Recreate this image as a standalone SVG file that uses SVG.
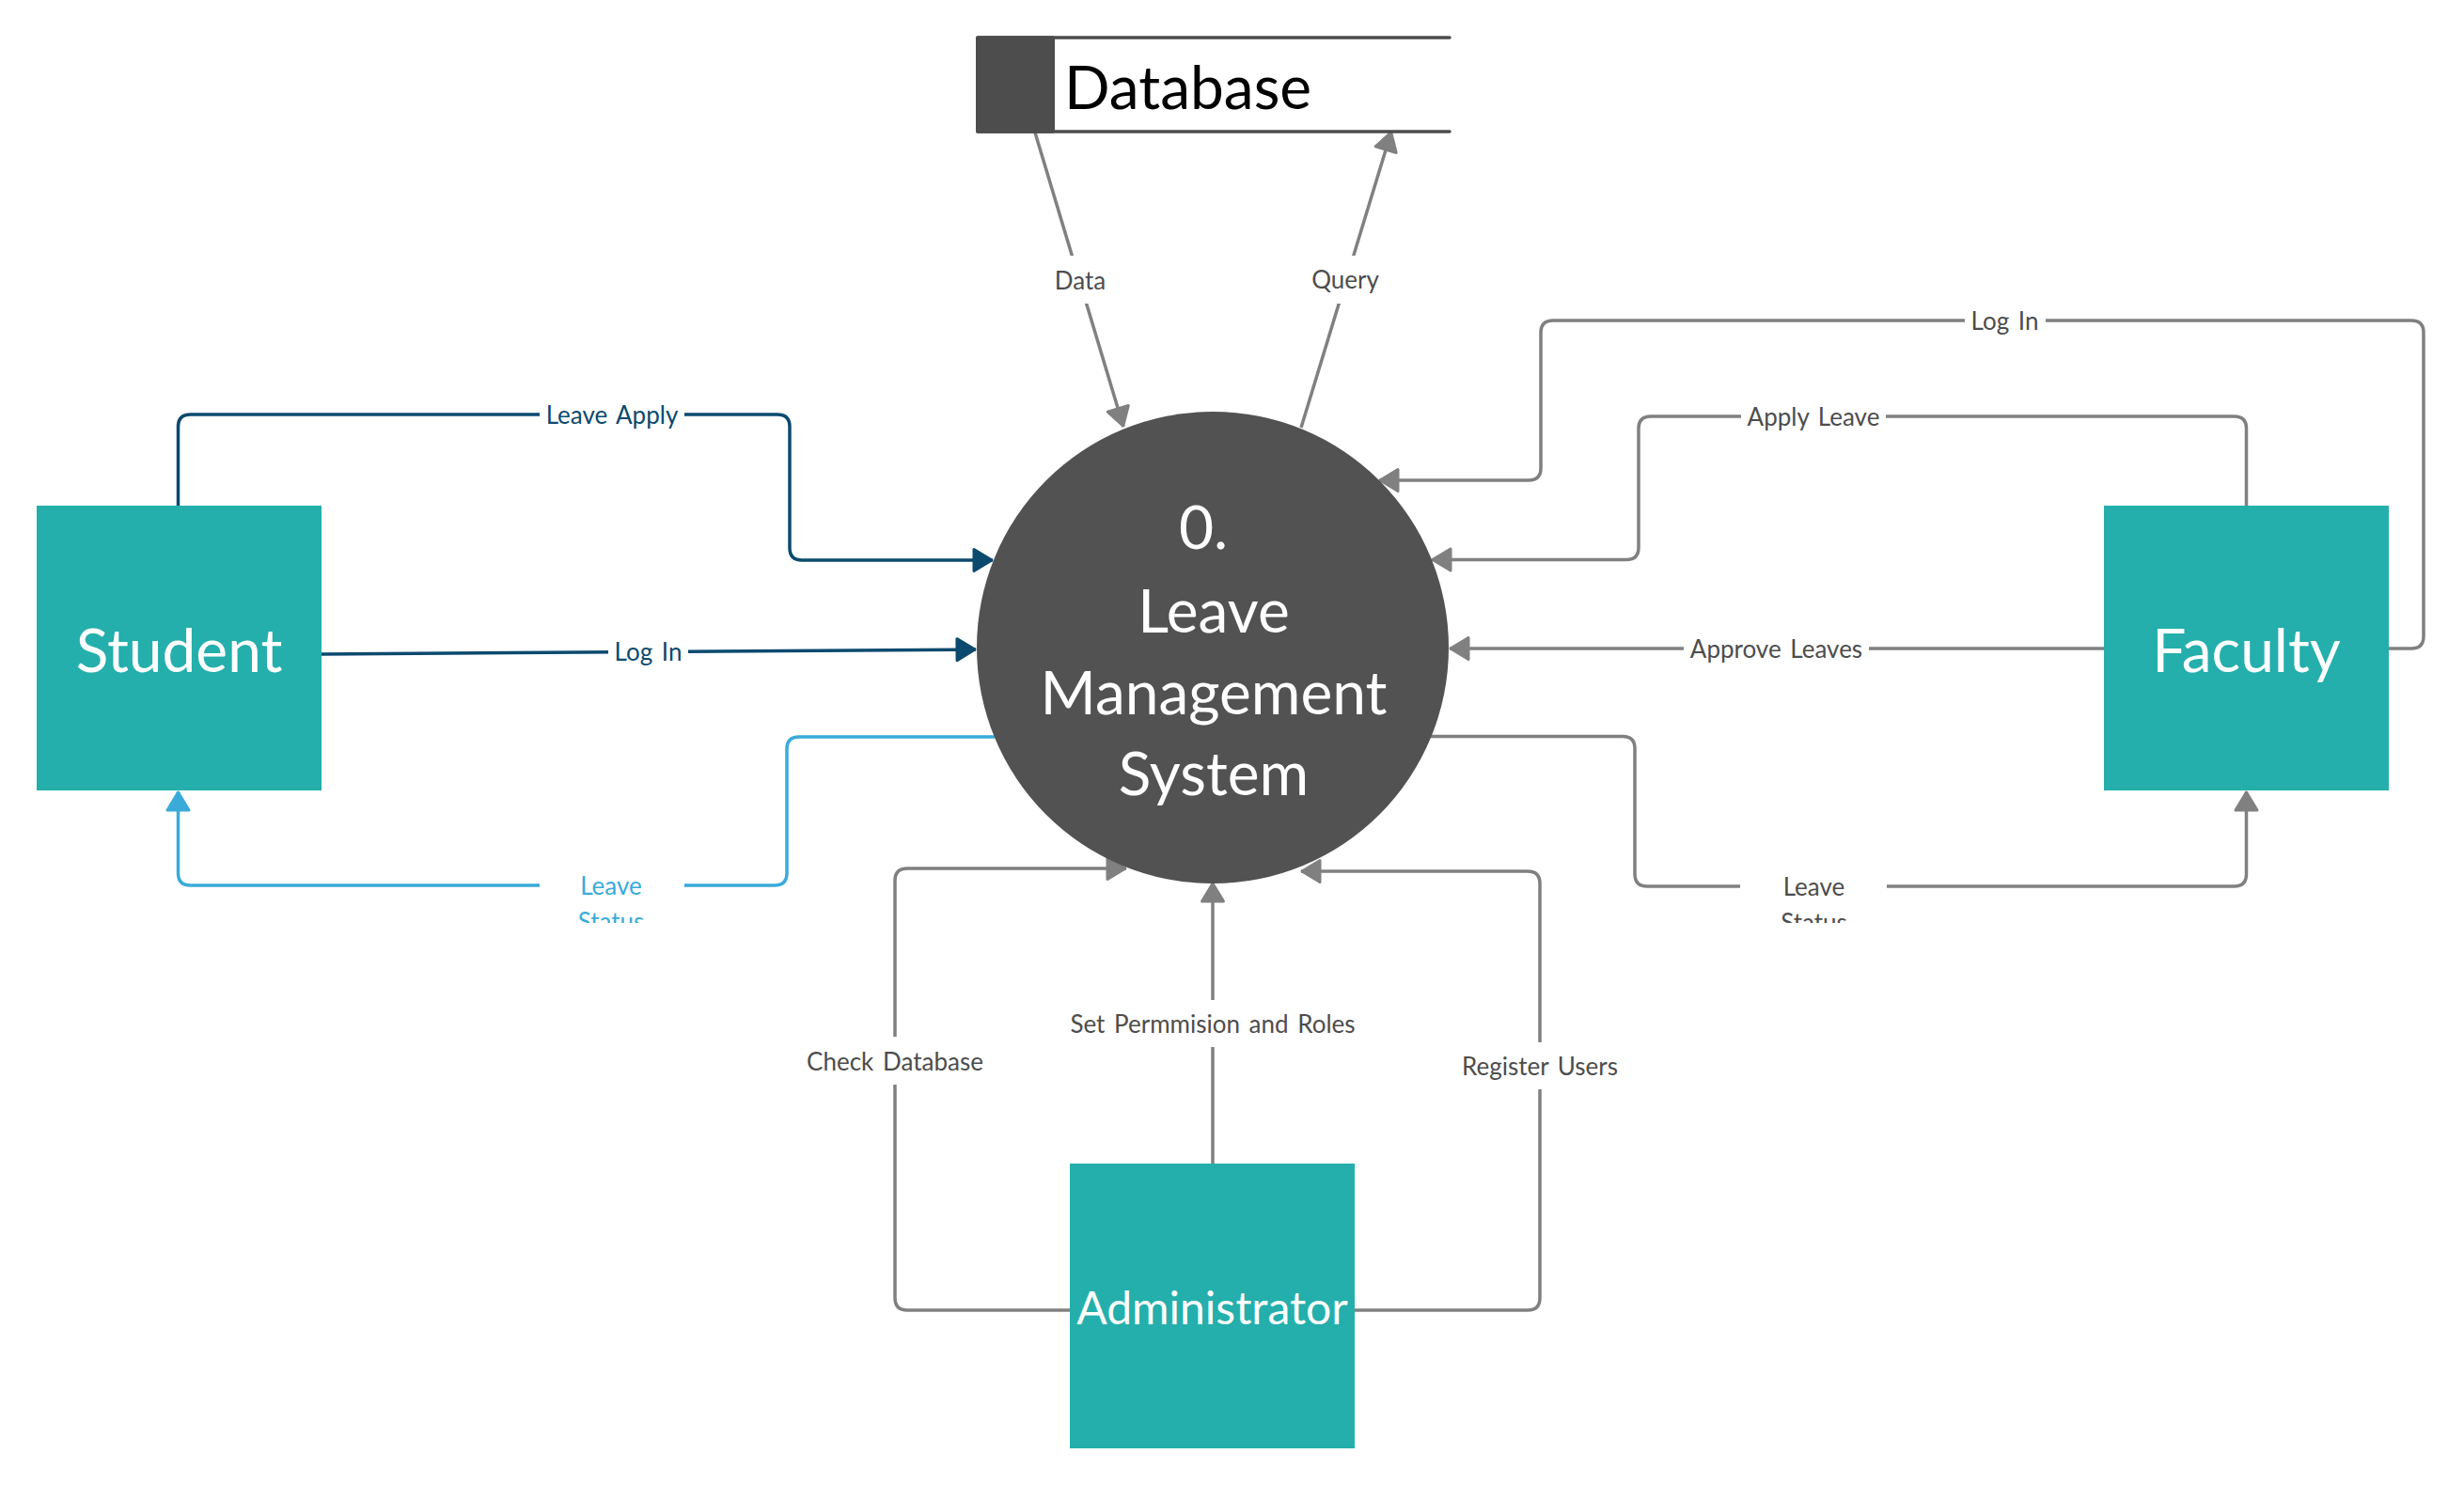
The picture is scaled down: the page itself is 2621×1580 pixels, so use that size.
<svg xmlns="http://www.w3.org/2000/svg" width="2621" height="1580" viewBox="0 0 2621 1580">
<style>
.ent{fill:#24AFAC}
.entT{fill:#FFFFFF;font-family:Lato,"Liberation Sans",sans-serif;text-anchor:middle}
.ln{fill:none;stroke-width:3.5;stroke-linejoin:round}
.g{stroke:#808080}
.db{stroke:#0B4A6E}
.lb{stroke:#3AABD9}
.lbl{font-family:Lato,"Liberation Sans",sans-serif;font-size:26px;text-anchor:middle;word-spacing:3px}
.lg{fill:#4D4D4D}
.ldb{fill:#0B4A6E}
.llb{fill:#3AABD9}
.bg{fill:#FFFFFF}
</style>
<defs>
<marker id="aG" viewBox="-24 -15 28 30" refX="0" refY="0" markerWidth="28" markerHeight="30" markerUnits="userSpaceOnUse" orient="auto"><path d="M-20,-11.5 L-1,0 L-20,11.5 Z" fill="#808080" stroke="#808080" stroke-width="3" stroke-linejoin="round"/></marker>
<marker id="aD" viewBox="-24 -15 28 30" refX="0" refY="0" markerWidth="28" markerHeight="30" markerUnits="userSpaceOnUse" orient="auto"><path d="M-20,-11.5 L-1,0 L-20,11.5 Z" fill="#0B4A6E" stroke="#0B4A6E" stroke-width="3" stroke-linejoin="round"/></marker>
<marker id="aL" viewBox="-24 -15 28 30" refX="0" refY="0" markerWidth="28" markerHeight="30" markerUnits="userSpaceOnUse" orient="auto"><path d="M-20,-11.5 L-1,0 L-20,11.5 Z" fill="#3AABD9" stroke="#3AABD9" stroke-width="3" stroke-linejoin="round"/></marker>
<clipPath id="clipS"><rect x="560" y="920" width="200" height="62"/></clipPath>
<clipPath id="clipF"><rect x="1840" y="920" width="200" height="62"/></clipPath>
</defs>
<rect width="2621" height="1580" fill="#FFFFFF"/>

<g id="connectors">
  <path class="ln db" d="M189.5,538 V454 Q189.5,441 202.5,441 H827 Q840,441 840,454 V583 Q840,596 853,596 H1056" marker-end="url(#aD)"/>
  <path class="ln db" d="M342,696 L1038,691" marker-end="url(#aD)"/>
  <path class="ln lb" d="M1058,784 H850 Q837,784 837,797 V929 Q837,942 824,942 H202.5 Q189.5,942 189.5,929 V842" marker-end="url(#aL)"/>
  <path class="ln g" d="M2541,690 H2565 Q2578,690 2578,677 V354 Q2578,341 2565,341 H1652 Q1639,341 1639,354 V498 Q1639,511 1626,511 H1467" marker-end="url(#aG)"/>
  <path class="ln g" d="M2389.5,538 V456 Q2389.5,443 2376.5,443 H1756 Q1743,443 1743,456 V582.5 Q1743,595.5 1730,595.5 H1523" marker-end="url(#aG)"/>
  <path class="ln g" d="M2238,690 H1542" marker-end="url(#aG)"/>
  <path class="ln g" d="M1522,783.5 H1726 Q1739,783.5 1739,796.5 V930 Q1739,943 1752,943 H2376.5 Q2389.5,943 2389.5,930 V842" marker-end="url(#aG)"/>
  <path class="ln g" d="M1138,1394 H965 Q952,1394 952,1381 V937 Q952,924 965,924 H1198" marker-end="url(#aG)"/>
  <path class="ln g" d="M1290,1238 V939" marker-end="url(#aG)"/>
  <path class="ln g" d="M1441,1394 H1625 Q1638,1394 1638,1381 V940 Q1638,927 1625,927 H1384" marker-end="url(#aG)"/>
  <path class="ln g" d="M1101,141 L1195,454" marker-end="url(#aG)"/>
  <path class="ln g" d="M1384,455 L1480,140" marker-end="url(#aG)"/>

  <g class="lbl">
    <rect class="bg" x="574" y="424" width="154" height="34"/><text class="ldb" x="651" y="450.5">Leave Apply</text>
    <rect class="bg" x="647" y="676" width="85" height="34"/><text class="ldb" x="689.5" y="703">Log In</text>
    <rect class="bg" x="574" y="925" width="154" height="34"/>
    <g clip-path="url(#clipS)"><text class="llb" x="650" y="952">Leave</text><text class="llb" x="650" y="990">Status</text></g>
    <rect class="bg" x="2090" y="324" width="86" height="34"/><text class="lg" x="2132.5" y="350.5">Log In</text>
    <rect class="bg" x="1852" y="426" width="154" height="34"/><text class="lg" x="1929" y="452.5">Apply Leave</text>
    <rect class="bg" x="1791" y="673" width="197" height="34"/><text class="lg" x="1889.5" y="699.5">Approve Leaves</text>
    <rect class="bg" x="1851" y="926" width="156" height="34"/>
    <g clip-path="url(#clipF)"><text class="lg" x="1929.5" y="952.5">Leave</text><text class="lg" x="1929.5" y="990.5">Status</text></g>
    <rect class="bg" x="858" y="1103" width="188" height="51"/><text class="lg" x="952" y="1138.5">Check Database</text>
    <rect class="bg" x="1130" y="1064" width="320" height="50"/><text class="lg" x="1290" y="1098.5">Set Permmision and Roles</text>
    <rect class="bg" x="1550" y="1109" width="176" height="50"/><text class="lg" x="1638" y="1143.5">Register Users</text>
    <rect class="bg" x="1114" y="272" width="70" height="51"/><text class="lg" x="1149" y="307.5">Data</text>
    <rect class="bg" x="1391" y="272" width="80" height="51"/><text class="lg" x="1431" y="307">Query</text>
  </g>
</g>

<g id="database">
  <rect x="1038" y="38.3" width="84" height="103.4" rx="2" fill="#4D4D4D"/>
  <line x1="1040" y1="40" x2="1542" y2="40" stroke="#4D4D4D" stroke-width="3.5" stroke-linecap="round"/>
  <line x1="1040" y1="140" x2="1542" y2="140" stroke="#4D4D4D" stroke-width="3.5" stroke-linecap="round"/>
  <text x="1132" y="116" font-family="Lato,'Liberation Sans',sans-serif" font-size="64" fill="#000000">Database</text>
</g>

<g id="process">
  <circle cx="1290" cy="689" r="251" fill="#525252"/>
  <text class="entT" font-size="64"><tspan x="1280" y="584">0.</tspan><tspan x="1291" y="672.5">Leave</tspan><tspan x="1291" y="759.5">Management</tspan><tspan x="1291" y="846">System</tspan></text>
</g>

<g id="student">
  <rect class="ent" x="39" y="538" width="303" height="303"/>
  <text class="entT" x="190.5" y="715" font-size="64">Student</text>
</g>

<g id="faculty">
  <rect class="ent" x="2238" y="538" width="303" height="303"/>
  <text class="entT" x="2389.5" y="715" font-size="64">Faculty</text>
</g>

<g id="administrator">
  <rect class="ent" x="1138" y="1238" width="303" height="303"/>
  <text class="entT" x="1289.5" y="1409" font-size="48">Administrator</text>
</g>
</svg>
